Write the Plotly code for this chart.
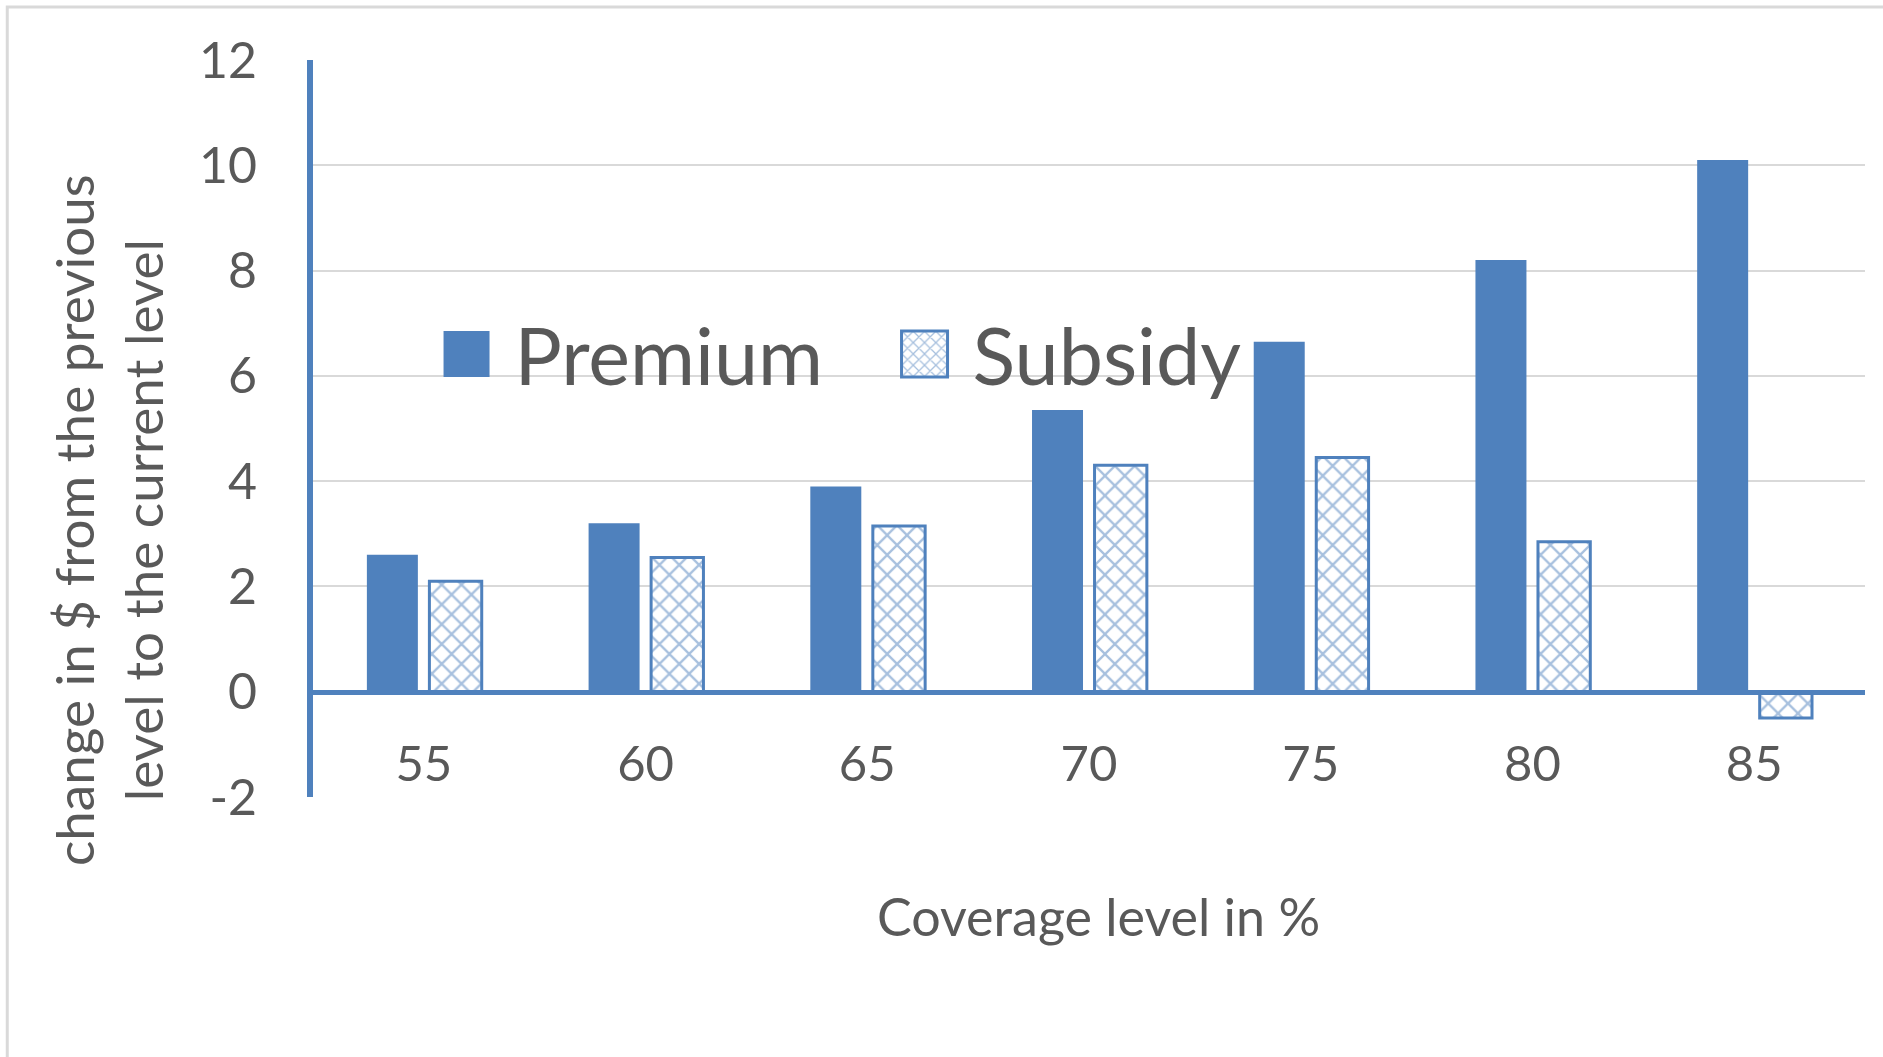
import plotly.graph_objects as go

categories = ["55", "60", "65", "70", "75", "80", "85"]
premium = [2.6, 3.2, 3.9, 5.35, 6.65, 8.2, 10.1]
subsidy = [2.1, 2.55, 3.15, 4.3, 4.45, 2.85, -0.5]
y_ticks = [-2, 0, 2, 4, 6, 8, 10, 12]
y_tick_labels = ["-2", "0", "2", "4", "6", "8", "10", "12"]
y_range = [-2, 12]

BLUE = "#4F81BD"
TEXT = "#595959"
GRID = "#D9D9D9"
FONT = "Lato"

W, H = 1883, 1057
L, R, T, B = 313, 18, 60, 260

fig = go.Figure()
fig.add_trace(go.Bar(
    name="Premium", x=categories, y=premium,
    marker=dict(color=BLUE, line=dict(width=0)),
    offset=-0.257, width=0.23,
))
fig.add_trace(go.Bar(
    name="Subsidy", x=categories, y=subsidy,
    marker=dict(color="white", line=dict(color=BLUE, width=3),
                pattern=dict(shape="x", fgcolor=BLUE, bgcolor="white",
                             size=14, solidity=0.3)),
    offset=0.025, width=0.236,
))

zero_pos = (0 - y_range[0]) / (y_range[1] - y_range[0])

fig.update_layout(
    width=W, height=H,
    margin=dict(l=L, r=R, t=T, b=B, pad=0),
    paper_bgcolor="white", plot_bgcolor="white",
    barmode="overlay",
    font=dict(family=FONT, color=TEXT, size=49),
    showlegend=True,
    legend=dict(orientation="h", x=0.068, xanchor="left", y=0.601, yanchor="middle",
                font=dict(size=79, color=TEXT, family=FONT),
                bgcolor="rgba(0,0,0,0)", itemwidth=86, traceorder="normal",
                entrywidth=357, entrywidthmode="pixels"),
    xaxis=dict(type="category", anchor="free", position=zero_pos,
               showline=True, linecolor=BLUE, linewidth=5,
               showgrid=False, ticks="", zeroline=False,
               tickfont=dict(size=49, color=TEXT, family=FONT),
               ticklabelstandoff=27, range=[-0.5, len(categories) - 0.5]),
    yaxis=dict(range=y_range, tickvals=y_ticks, ticktext=y_tick_labels,
               showgrid=True, gridcolor=GRID, gridwidth=2, showline=True,
               linecolor=BLUE, linewidth=6, zeroline=False, ticks="",
               tickfont=dict(size=50, color=TEXT, family=FONT),
               ticklabelstandoff=40),
    annotations=[
        dict(text="change in $ from the previous<br>level to the current level",
             x=-0.132, y=0.376, xref="paper", yref="paper",
             textangle=-90, showarrow=False, align="center",
             xanchor="center", yanchor="middle",
             font=dict(size=53, color=TEXT, family=FONT)),
        dict(text="Coverage level in %",
             x=0.5058, y=-0.1615, xref="paper", yref="paper",
             showarrow=False, xanchor="center", yanchor="middle",
             font=dict(size=52, color=TEXT, family=FONT)),
    ],
    shapes=[
        dict(type="rect", xref="paper", yref="paper",
             x0=-0.197, x1=1.018, y0=-0.366, y1=1.0719,
             line=dict(color=GRID, width=3), fillcolor="rgba(0,0,0,0)",
             layer="below"),
    ],
)

post_script = """
var gd = document.getElementById('{plot_id}');
function bigLegend(){
  var ps = gd.querySelectorAll('.legend .legendpoints path');
  ps.forEach(function(p){ p.setAttribute('d','M23,23H-23V-23H23Z'); });
}
bigLegend();
if (gd.on) { gd.on('plotly_afterplot', bigLegend); }
"""

fig.write_html("out.html", post_script=post_script)
